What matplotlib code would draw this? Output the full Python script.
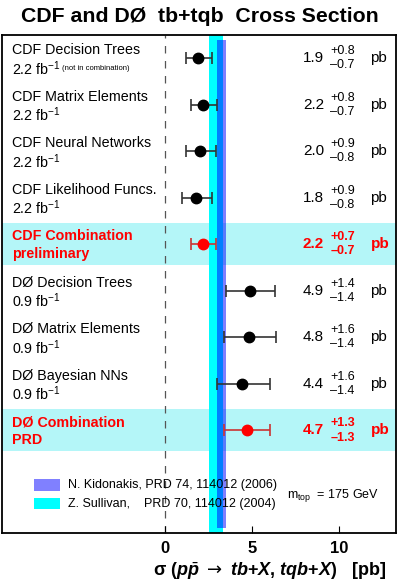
import numpy as np
import matplotlib
matplotlib.use("Agg")
import matplotlib.pyplot as plt

plt.rcParams['font.family'] = ['Liberation Sans', 'DejaVu Sans']
plt.rcParams['mathtext.fontset'] = 'custom'
plt.rcParams['mathtext.rm'] = 'Liberation Sans'
plt.rcParams['mathtext.it'] = 'Liberation Sans:italic:bold'
plt.rcParams['mathtext.bf'] = 'Liberation Sans:bold'
plt.rcParams['mathtext.sf'] = 'DejaVu Sans'

# measurements
names = ["CDF Decision Trees", "CDF Matrix Elements", "CDF Neural Networks",
         "CDF Likelihood Funcs.", "CDF Combination", "DØ Decision Trees",
         "DØ Matrix Elements", "DØ Bayesian NNs", "DØ Combination"]
sublabels = ["2.2 fb$^{-1}$", "2.2 fb$^{-1}$", "2.2 fb$^{-1}$", "2.2 fb$^{-1}$",
             "preliminary", "0.9 fb$^{-1}$", "0.9 fb$^{-1}$", "0.9 fb$^{-1}$", "PRD"]
values = [1.9, 2.2, 2.0, 1.8, 2.2, 4.9, 4.8, 4.4, 4.7]
err_up = [0.8, 0.8, 0.9, 0.9, 0.7, 1.4, 1.6, 1.6, 1.3]
err_dn = [0.7, 0.7, 0.8, 0.8, 0.7, 1.4, 1.4, 1.4, 1.3]
is_comb = [False, False, False, False, True, False, False, False, True]

# theory predictions (band edges in pb)
sullivan = (2.51, 3.30)
kidonakis = (2.97, 3.49)

fig = plt.figure(figsize=(3.99, 5.83), dpi=100)
ax = fig.add_axes([0.005, 0.086, 0.988, 0.854])
ax.set_xlim(-9.37, 13.28)
ax.set_ylim(10.21, -0.495)

rows = np.arange(len(values))

# highlight rows for combinations
for i in rows:
    if is_comb[i]:
        ax.axhspan(i - 0.45, i + 0.45, color='#b4f6f8', zorder=0, lw=0)

# theory bands
ax.axvspan(sullivan[0], sullivan[1], color='#00ffff', zorder=1, lw=0)
ax.fill_betweenx([-0.39, 10.1], kidonakis[0], kidonakis[1],
                 color='#0000ff', alpha=0.5, zorder=2, lw=0)

ax.axvline(0, color='#555555', ls=(0, (6, 6)), lw=0.9, zorder=1)

for i in rows:
    col = 'red' if is_comb[i] else 'black'
    ecol = '#cc3333' if is_comb[i] else '#333333'
    ax.errorbar(values[i], i, xerr=[[err_dn[i]], [err_up[i]]], fmt='o',
                color=col, ecolor=ecol, ms=7.5, capsize=4, elinewidth=1.2,
                capthick=1.2, zorder=5)
    wt = 'bold' if is_comb[i] else 'normal'
    ax.text(-8.8, i - 0.17, names[i], fontsize=10.3, color=col,
            fontweight=wt, va='center', ha='left')
    ax.text(-8.8, i + 0.22, sublabels[i], fontsize=10.3, color=col,
            fontweight=wt, va='center', ha='left')
    ax.text(9.14, i, "%.1f" % values[i], fontsize=11, color=col,
            fontweight=wt, va='center', ha='right')
    ax.text(9.5, i - 0.15, "+%.1f" % err_up[i], fontsize=9, color=col,
            fontweight=wt, va='center', ha='left')
    ax.text(9.5, i + 0.16, "\u2013%.1f" % err_dn[i], fontsize=9, color=col,
            fontweight=wt, va='center', ha='left')
    ax.text(11.8, i, "pb", fontsize=11, color=col,
            fontweight=wt, va='center', ha='left')

ax.text(-5.9, 0.23, "(not in combination)", fontsize=5.5, va='center', ha='left')

# legend
ax.fill_between([-7.55, -6.05], 9.06, 9.32, color='#8080ff', lw=0)
ax.fill_between([-7.55, -6.05], 9.46, 9.7, color='#00ffff', lw=0)
ax.text(-5.55, 9.18, "N. Kidonakis, PRD 74, 114012 (2006)", fontsize=9,
        va='center', ha='left')
ax.text(-5.55, 9.58, "Z. Sullivan,    PRD 70, 114012 (2004)", fontsize=9,
        va='center', ha='left')
ax.text(7.0, 9.4, "m$_{\\mathrm{top}}$  = 175 GeV", fontsize=9,
        va='center', ha='left')

ax.set_xticks([0, 5, 10])
ax.set_xticklabels(["0", "5", "10"], fontsize=12, fontweight='bold')
ax.tick_params(axis='x', direction='in', length=5, pad=6, top=False)
ax.set_yticks([])
for s in ax.spines.values():
    s.set_linewidth(1.3)

ax.set_xlabel(r"σ ($p\bar{p}\ \mathsf{\rightarrow}\ tb$+$X$, $tqb$+$X$)   [pb]",
              fontsize=13, fontweight='bold', labelpad=2)
ax.xaxis.set_label_coords(0.68, -0.055)

fig.text(0.5, 0.972, "CDF and DØ  tb+tqb  Cross Section", fontsize=15.3,
         fontweight='bold', ha='center', va='center')

fig.savefig("out.png", dpi=100)
